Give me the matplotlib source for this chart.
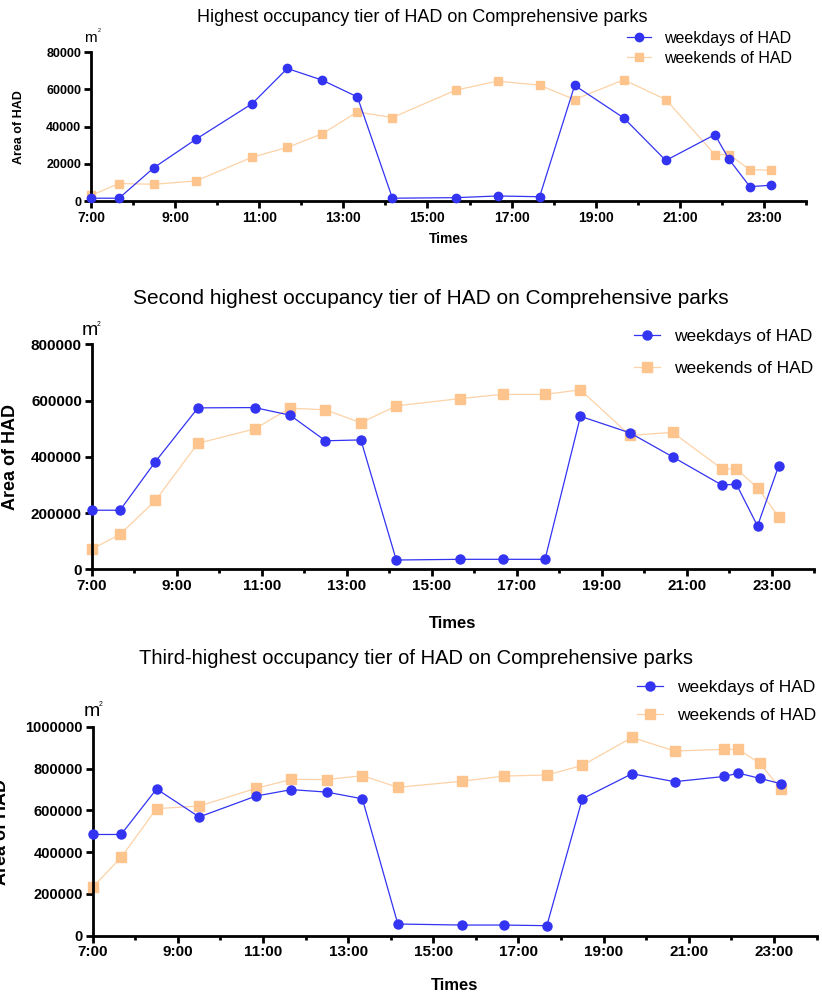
import matplotlib
matplotlib.use("Agg")
import matplotlib.pyplot as plt

# --------------------
# Data
# --------------------
times = ["7:00", "7:40", "8:30", "9:30", "10:50", "11:40", "12:30", "13:20", "14:10",
         "15:40", "16:40", "17:40", "18:30", "19:40", "20:40", "21:50", "22:10", "22:40", "23:10"]

tier1_weekdays = [1500, 1500, 18000, 33300, 52400, 71300, 65000, 56000, 1500,
                  1800, 2700, 2300, 62200, 44700, 21800, 35700, 22500, 7700, 8500]
tier1_weekends = [3000, 9400, 9000, 10800, 23600, 28800, 36200, 47900, 44900,
                  59600, 64500, 62300, 54600, 65200, 54600, 25000, 25000, 16800, 16600]

tier2_weekdays = [210000, 210000, 383000, 574000, 575000, 548000, 457000, 460000, 33000,
                  35500, 35500, 35500, 544000, 485000, 400000, 299000, 303000, 154000, 369000]
tier2_weekends = [72000, 124000, 245000, 448000, 499000, 573000, 567000, 521000, 581000,
                  607000, 622000, 622000, 638000, 476000, 487000, 357000, 357000, 290000, 186000]

tier3_weekdays = [485000, 485000, 703000, 569000, 669000, 700000, 688000, 656000, 56000,
                  51000, 51000, 48000, 656000, 776000, 738000, 763000, 779000, 754000, 728000]
tier3_weekends = [232000, 375000, 609000, 621000, 706000, 749000, 748000, 767000, 711000,
                  740000, 765000, 770000, 816000, 950000, 885000, 893000, 893000, 826000, 703000]

titles = ["Highest occupancy tier of HAD on Comprehensive parks",
          "Second highest occupancy tier of HAD on Comprehensive parks",
          "Third-highest occupancy tier of HAD on Comprehensive parks"]
y_max = [80000, 800000, 1000000]
y_step = [20000, 200000, 200000]
x_labels = ["7:00", "9:00", "11:00", "13:00", "15:00", "17:00", "19:00", "21:00", "23:00"]

BLUE = "#3333f2"
ORANGE = "#fdc48e"
ORANGE_LINE = "#fdd2a6"
W, H = 822, 993


def to_hours(t):
    h, m = t.split(":")
    return int(h) + int(m) / 60


def fx(px):
    return px / W


def fy(py):
    return 1 - py / H


hours = [to_hours(t) for t in times]

plt.rcParams["font.family"] = ["Liberation Sans", "DejaVu Sans"]
fig = plt.figure(figsize=(W / 100, H / 100), dpi=100)

# --------------------
# Panel layout (pixel boxes) and text settings
# --------------------
panels = [
    dict(box=(91, 52.3, 806, 201), wd=tier1_weekdays, we=tier1_weekends,
         title_xy=(422, 18), title_fs=13, tick_fs=9, xtick_fs=10, lab_fs=10, ylab_fs=9,
         ylab_xy=(19.5, 127), xlab_y=239, m_xy=(90, 38), m_fs=11,
         leg_xy=(627, 31), leg_fs=11.5, ms=6, lspace=0.3),
    dict(box=(91.7, 344.3, 814.2, 569.3), wd=tier2_weekdays, we=tier2_weekends,
         title_xy=(431, 299), title_fs=15, tick_fs=11, xtick_fs=11, lab_fs=12, ylab_fs=13,
         ylab_xy=(11, 457), xlab_y=623, m_xy=(90, 331), m_fs=14,
         leg_xy=(634, 329), leg_fs=12.5, ms=6.5, lspace=0.95),
    dict(box=(92.7, 727, 816.5, 935.7), wd=tier3_weekdays, we=tier3_weekends,
         title_xy=(416, 658), title_fs=14.5, tick_fs=10.5, xtick_fs=11, lab_fs=12, ylab_fs=13,
         ylab_xy=(1.5, 832), xlab_y=985, m_xy=(92, 712), m_fs=14,
         leg_xy=(637, 680), leg_fs=12.5, ms=6.5, lspace=0.75),
]

for i, p in enumerate(panels):
    x0, y0, x1, y1 = p["box"]
    ax = fig.add_axes([fx(x0), fy(y1), fx(x1) - fx(x0), fy(y0) - fy(y1)])

    ax.plot(hours, p["wd"], color=BLUE, marker="o", markersize=p["ms"], lw=0.9,
            label="weekdays of HAD", clip_on=False, zorder=3)
    ax.plot(hours, p["we"], color=ORANGE_LINE, marker="s", markersize=p["ms"],
            markerfacecolor=ORANGE, markeredgecolor=ORANGE, lw=0.9,
            label="weekends of HAD", clip_on=False, zorder=2)

    ax.set_xlim(7, 24)
    ax.set_ylim(0, y_max[i])
    ax.set_xticks(range(7, 24, 2))
    ax.set_xticklabels(x_labels, fontsize=p["xtick_fs"], fontweight="bold")
    ax.set_xticks(range(8, 25, 2), minor=True)
    ax.set_yticks(range(0, y_max[i] + 1, y_step[i]))
    ax.set_yticklabels([str(v) for v in range(0, y_max[i] + 1, y_step[i])],
                       fontsize=p["tick_fs"], fontweight="bold")

    for side in ["top", "right"]:
        ax.spines[side].set_visible(False)
    for side in ["left", "bottom"]:
        ax.spines[side].set_linewidth(2.0)
    ax.tick_params(axis="both", which="major", width=2.0, length=5, pad=2)
    ax.tick_params(axis="x", which="minor", width=2.0, length=3)

    # texts placed in figure pixels
    fig.text(fx(p["title_xy"][0]), fy(p["title_xy"][1]), titles[i],
             fontsize=p["title_fs"], ha="center", va="center")
    fig.text(fx(p["ylab_xy"][0]), fy(p["ylab_xy"][1]), "Area of HAD",
             fontsize=p["ylab_fs"], fontweight="bold", rotation=90, ha="center", va="center")
    fig.text(fx((x0 + x1) / 2), fy(p["xlab_y"]), "Times",
             fontsize=p["lab_fs"], fontweight="bold", ha="center", va="center")
    fig.text(fx(p["m_xy"][0]), fy(p["m_xy"][1]), "m",
             fontsize=p["m_fs"], ha="center", va="center")
    fig.text(fx(p["m_xy"][0] + 9), fy(p["m_xy"][1] - 7), "2",
             fontsize=p["m_fs"] * 0.35, ha="center", va="center")

    ax.legend(loc="upper left", bbox_to_anchor=(fx(p["leg_xy"][0]), fy(p["leg_xy"][1])),
              bbox_transform=fig.transFigure, frameon=False, fontsize=p["leg_fs"],
              handlelength=1.5, handletextpad=0.8, labelspacing=p["lspace"],
              borderaxespad=0, borderpad=0)

fig.savefig("out.png", dpi=100)
